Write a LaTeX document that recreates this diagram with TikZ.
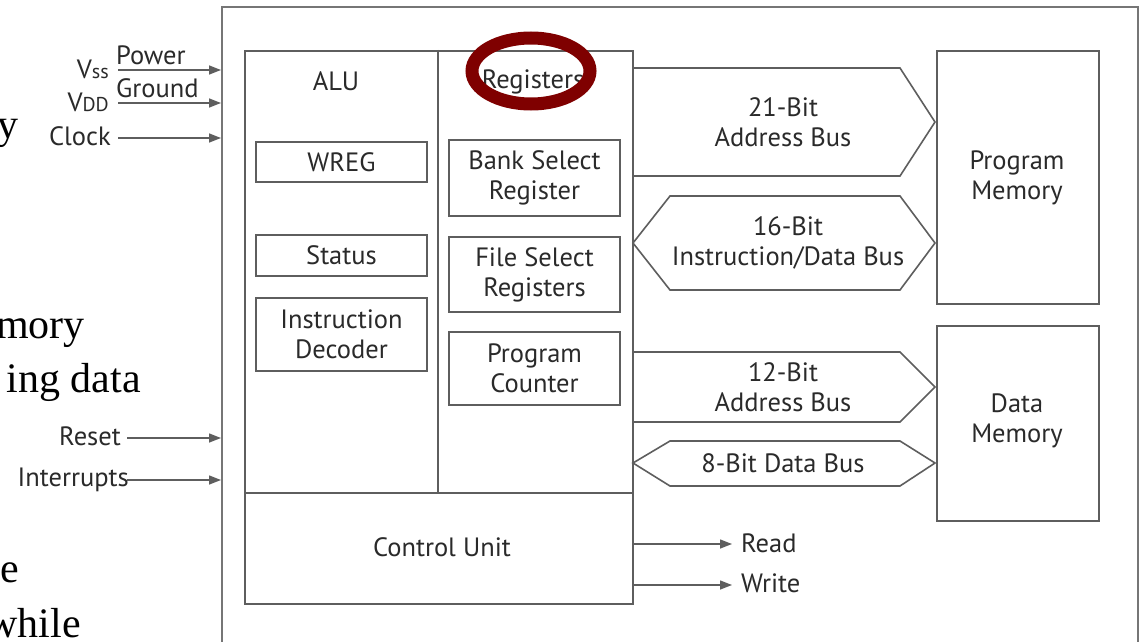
\documentclass[tikz,border=0pt]{standalone}
\usepackage{fontspec}
\newfontfamily\diag{PT Sans}
\newfontfamily\slide{Liberation Serif}
\usetikzlibrary{arrows.meta}
\definecolor{ln}{HTML}{5E5E5E}
\definecolor{tx}{HTML}{2A2A2A}
\definecolor{ringred}{HTML}{7F0000}
\tikzset{
  box/.style={draw=ln, line width=1.6pt, inner sep=0pt, align=center, text=tx},
  lbl/.style={inner sep=0pt, align=center, text=tx, font=\diag\fontsize{26.5}{30}\selectfont},
  bus/.style={draw=ln, line width=1.6pt, line join=miter},
  arr/.style={draw=ln, line width=1.4pt, -{Triangle[length=12pt,width=9pt]}},
  frag/.style={inner sep=0pt, anchor=base east, font=\slide\fontsize{42}{42}\selectfont}
}
\begin{document}
\begin{tikzpicture}[x=1pt,y=-1pt]
\useasboundingbox (0,0) rectangle (1141,642);
\clip (0,0) rectangle (1141,642);
\fill[white] (0,0) rectangle (1141,642);

% fragments of the surrounding slide text
\node[frag] (f1) at (19,138) {y};
\node[frag] (f2) at (85,338) {mory};
\node[frag] (f3) at (141,392) {ing data};
\node[frag] (f4) at (19,582) {e};
\node[frag] (f5) at (81,637) {while};

% chip outline (open at the bottom)
\node[draw=ln!85, line width=1.8pt, minimum width=916, minimum height=700, anchor=north west, inner sep=0pt] (chip) at (221,6) {};

% CPU block
\node[box, minimum width=388, minimum height=553, anchor=north west] (cpu) at (244,50) {};
\coordinate (divtop) at (438,50);
\coordinate (divbot) at (438,493);
\draw[ln, line width=1.6pt] (divtop) -- (divbot);
\draw[ln, line width=1.6pt] (divbot -| cpu.west) -- (divbot -| cpu.east);

\node[lbl] (alu) at (336,81) {ALU};
\node[lbl] (regs) at (533,82) {Registers};

\node[box, lbl, draw=ln, minimum width=171, minimum height=40] (wreg) at (341.5,162) {WREG};
\node[box, lbl, draw=ln, minimum width=171, minimum height=41] (status) at (341.5,255.5) {Status};
\node[box, lbl, draw=ln, minimum width=171, minimum height=73] (idec) at (341.5,334.5) {Instruction\\Decoder};

\node[box, lbl, draw=ln, minimum width=171, minimum height=76] (bsr) at (534.5,178) {Bank Select\\Register};
\node[box, lbl, draw=ln, minimum width=171, minimum height=75] (fsr) at (534.5,274.5) {File Select\\Registers};
\node[box, lbl, draw=ln, minimum width=171, minimum height=73] (pc) at (534.5,368.5) {Program\\Counter};

\node[lbl] (cu) at (442,547) {Control Unit};

% memories
\node[box, lbl, draw=ln, minimum width=162, minimum height=253, anchor=north west] (pmem) at (936,50) {};
\node[lbl] (pmemt) at (1017,178) {Program\\Memory};
\node[box, lbl, draw=ln, minimum width=162, minimum height=195, anchor=north west] (dmem) at (936,325) {};
\node[lbl] (dmemt) at (1017,421) {Data\\Memory};

% buses
\draw[bus] (632,68) -- (900,68) -- (935,122) -- (900,176) -- (632,176);
\node[lbl] (b21) at (783,122) {21-Bit\\Address Bus};
\draw[bus] (633,243) -- (670,196) -- (900,196) -- (935,243) -- (900,290) -- (670,290) -- cycle;
\node[lbl] (b16) at (788,243) {16-Bit\\Instruction/Data Bus};
\draw[bus] (632,352) -- (900,352) -- (935,387) -- (900,422) -- (632,422);
\node[lbl] (b12) at (783,387) {12-Bit\\Address Bus};
\draw[bus] (633,463) -- (670,441) -- (900,441) -- (935,463) -- (900,486) -- (670,486) -- cycle;
\node[lbl] (b8) at (783,463) {8-Bit Data Bus};

% control outputs
\coordinate (rd) at (732,544);
\coordinate (wr) at (732,585);
\draw[arr] (rd -| cpu.east) -- (rd);
\draw[arr] (wr -| cpu.east) -- (wr);
\node[lbl, anchor=west] (rdt) at (741,543) {Read};
\node[lbl, anchor=west] (wrt) at (741,583) {Write};

% inputs
\coordinate (pw) at (118,70);
\coordinate (gd) at (118,103);
\coordinate (ck) at (118,138);
\coordinate (rs) at (127,438);
\coordinate (ir) at (127,480);
\draw[arr] (pw) -- (pw -| chip.west);
\draw[arr] (gd) -- (gd -| chip.west);
\draw[arr] (ck) -- (ck -| chip.west);
\draw[arr] (rs) -- (rs -| chip.west);
\draw[arr] (ir) -- (ir -| chip.west);
\node[lbl, anchor=base west] (pwt) at (116,65) {Power};
\node[lbl, anchor=base west] (gdt) at (116,98) {Ground};
\node[lbl, anchor=base east] (vss) at (109,78) {V{\fontsize{20}{20}\selectfont ss}};
\node[lbl, anchor=base east] (vdd) at (109,111) {V{\fontsize{20}{20}\selectfont DD}};
\node[lbl, anchor=base east] (ckt) at (111,145) {Clock};
\node[lbl, anchor=base east] (rst) at (121,445) {Reset};
\node[lbl, anchor=base east] (irt) at (129,486) {Interrupts};

% highlight ring
\draw[ringred, line width=13pt] (531,71) ellipse [x radius=59, y radius=33];
\end{tikzpicture}
\end{document}
